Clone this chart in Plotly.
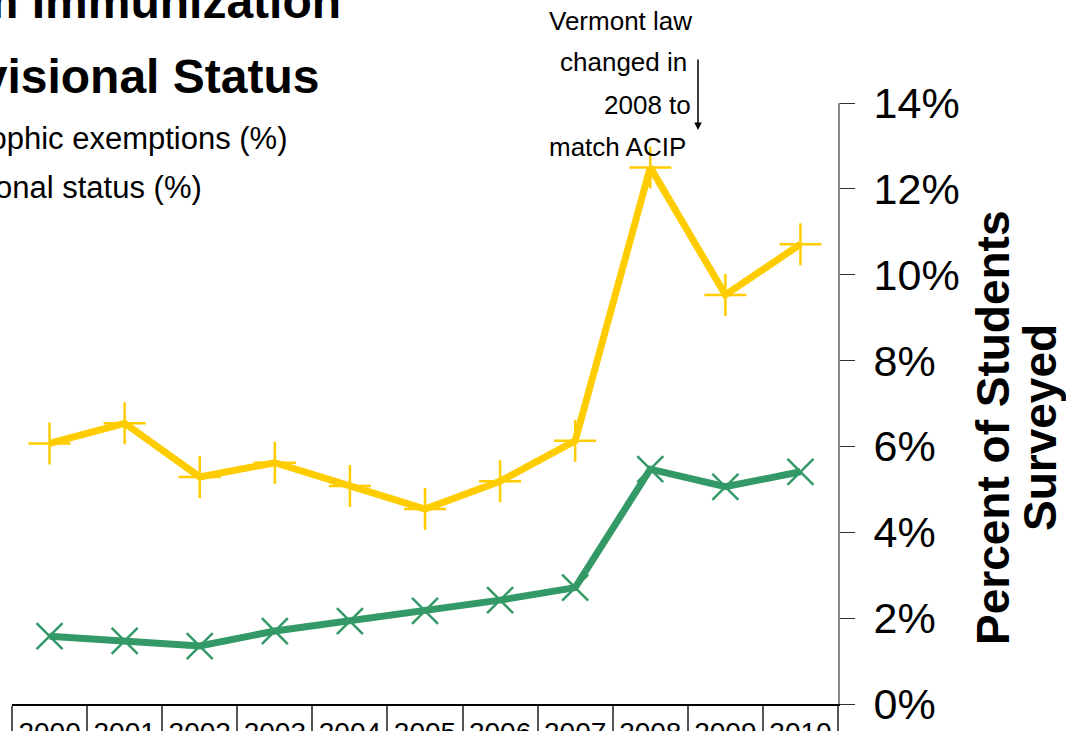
import plotly.graph_objects as go

# ---- data ----
years = ["2000", "2001", "2002", "2003", "2004", "2005", "2006", "2007", "2008", "2009", "2010"]
philosophic_exemptions = [1.58, 1.47, 1.35, 1.70, 1.93, 2.17, 2.42, 2.71, 5.47, 5.06, 5.41]
provisional_status = [6.07, 6.54, 5.29, 5.62, 5.08, 4.54, 5.19, 6.13, 12.50, 9.53, 10.71]
y_ticks = [0, 2, 4, 6, 8, 10, 12, 14]

W, H = 1066, 731
L, R, T, B = 12, 228, 103, 27
PW, PH = W - L - R, H - T - B


def px(x):
    return (x - L) / PW


def py(y):
    return (H - B - y) / PH


GREEN = "#339966"
YELLOW = "#FFCC00"
REG = "Liberation Sans, Arial, sans-serif"

fig = go.Figure()
fig.add_trace(go.Scatter(
    x=years, y=[v / 100 for v in provisional_status], mode="lines+markers",
    name="Provisional status (%)",
    line=dict(color=YELLOW, width=7),
    marker=dict(symbol="cross-thin", size=30, line=dict(color=YELLOW, width=2.5)),
))
fig.add_trace(go.Scatter(
    x=years, y=[v / 100 for v in philosophic_exemptions], mode="lines+markers",
    name="Philosophic exemptions (%)",
    line=dict(color=GREEN, width=7),
    marker=dict(symbol="x-thin", size=26, line=dict(color=GREEN, width=2.5)),
))

ann = []
# title (cropped on the left in the reference)
ann.append(dict(text="<b>Exemption from Immunization</b>", x=px(343), y=py(2), xanchor="right", yanchor="middle",
                font=dict(family=REG, size=48, color="black")))
ann.append(dict(text="<b>and Provisional Status</b>", x=px(321), y=py(76), xanchor="right", yanchor="middle",
                font=dict(family=REG, size=48, color="black")))
# legend texts
ann.append(dict(text="Philosophic exemptions (%)", x=px(290), y=py(139), xanchor="right", yanchor="middle",
                font=dict(family=REG, size=31, color="black")))
ann.append(dict(text="Provisional status (%)", x=px(204), y=py(187), xanchor="right", yanchor="middle",
                font=dict(family=REG, size=31, color="black")))
# note
note_lines = [("Vermont law", 694, 21), ("changed in", 689, 62), ("2008 to", 693, 105), ("match ACIP", 688, 147)]
for t, xr, yc in note_lines:
    ann.append(dict(text=t, x=px(xr), y=py(yc), xanchor="right", yanchor="middle",
                    font=dict(family=REG, size=26, color="black")))
ann.append(dict(text="", x=px(698), y=py(130), ax=0, ay=-72, showarrow=True, arrowhead=2,
                arrowsize=1, arrowwidth=1.5, arrowcolor="black"))
# y axis title (rotated)
ann.append(dict(text="<b>Percent of Students</b>", x=px(993), y=py(428), xanchor="center", yanchor="middle",
                textangle=-90, font=dict(family=REG, size=46, color="black")))
ann.append(dict(text="<b>Surveyed</b>", x=px(1040), y=py(428), xanchor="center", yanchor="middle",
                textangle=-90, font=dict(family=REG, size=46, color="black")))
for a in ann:
    a.setdefault("showarrow", False)
    a["xref"] = "paper"
    a["yref"] = "paper"

fig.update_layout(
    width=W, height=H,
    margin=dict(l=L, r=R, t=T, b=B, pad=0),
    paper_bgcolor="white", plot_bgcolor="white",
    showlegend=False,
    annotations=ann,
    xaxis=dict(
        type="category", categoryorder="array", categoryarray=years, range=[-0.5, 10.5],
        showline=True, linecolor="black", linewidth=1.5,
        ticks="outside", tickson="boundaries", ticklen=40, tickcolor="#555", tickwidth=1.5,
        ticklabelstandoff=3,
        tickfont=dict(family=REG, size=28, color="black"),
        showgrid=False, zeroline=False, automargin=False,
    ),
    yaxis=dict(
        side="right", range=[0, 0.14], tickvals=[v / 100 for v in y_ticks],
        ticktext=[f"{v}%" for v in y_ticks],
        showline=True, linecolor="#888", linewidth=2,
        ticks="outside", ticklen=15, tickcolor="#333", tickwidth=1,
        ticklabelstandoff=10,
        tickfont=dict(family=REG, size=43, color="black"),
        showgrid=False, zeroline=False, automargin=False,
    ),
)

fig.write_html("out.html", config={"displayModeBar": False},
               post_script="document.body.style.margin='0';")
